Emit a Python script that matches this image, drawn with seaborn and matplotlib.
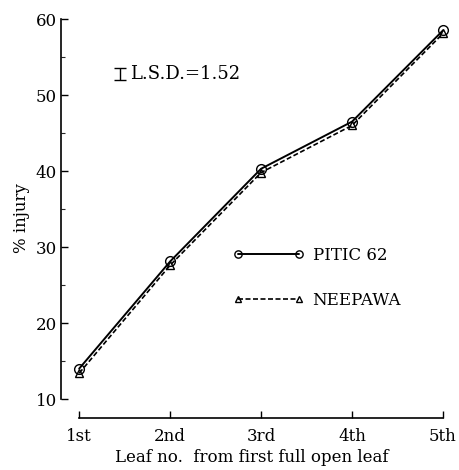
import matplotlib
matplotlib.use("Agg")
import matplotlib.pyplot as plt
import seaborn as sns
import pandas as pd

leaves = ["1st", "2nd", "3rd", "4th", "5th"]
leaf_pos = [1, 2, 3, 4, 5]
pitic62 = [14.0, 28.1, 40.3, 46.5, 58.5]
neepawa = [13.4, 27.6, 39.8, 46.0, 58.1]
lsd = 1.52
y_ticks = [10, 20, 30, 40, 50, 60]
y_minor = [15, 25, 35, 45, 55]

sns.set_theme(style="ticks")
plt.rcParams["font.family"] = ["DejaVu Serif"]
plt.rcParams["text.color"] = "black"
plt.rcParams["axes.labelcolor"] = "black"

df = pd.DataFrame({
    "leaf": leaf_pos * 2,
    "injury": pitic62 + neepawa,
    "variety": ["PITIC 62"] * 5 + ["NEEPAWA"] * 5,
})

fig = plt.figure(figsize=(4.6, 4.7), dpi=100)
ax = fig.add_axes([0.1326, 0.1106, 0.8304, 0.8489])

styles = {
    "PITIC 62": dict(marker="o", ls="-", ms=7, lw=1.4),
    "NEEPAWA": dict(marker="^", ls="--", ms=5.5, lw=1.2, dashes=(3, 1.5)),
}
for name, st in styles.items():
    sub = df[df["variety"] == name]
    kw = dict(st)
    dashes = kw.pop("dashes", None)
    sns.lineplot(data=sub, x="leaf", y="injury", ax=ax, color="black",
                 marker=kw["marker"], markersize=kw["ms"], linewidth=kw["lw"],
                 linestyle=kw["ls"], mfc="none", mec="black", mew=1.0,
                 label=name, clip_on=False)
    if dashes:
        ax.lines[-1].set_dashes(dashes)

ax.set_xlim(0.8, 5.0)
ax.set_ylim(7.5, 60)
ax.spines["left"].set_bounds(10, 60)
ax.spines["bottom"].set_bounds(1, 5)
for s in ["top", "right"]:
    ax.spines[s].set_visible(False)
for s in ["left", "bottom"]:
    ax.spines[s].set_linewidth(1.2)
    ax.spines[s].set_color("black")

ax.set_xticks(leaf_pos)
ax.set_xticklabels(leaves)
ax.set_yticks(y_ticks)
ax.set_yticks(y_minor, minor=True)
ax.tick_params(axis="both", which="major", direction="in", length=5, width=1.0,
               labelsize=12, colors="black", pad=7)
ax.tick_params(axis="y", which="minor", direction="in", length=3, width=0.8)
ax.tick_params(axis="y", which="major", pad=3)

ax.set_xlabel("Leaf no.  from first full open leaf", fontsize=12, labelpad=3)
ax.set_ylabel("% injury", fontsize=12, labelpad=4)

# LSD bar
ax.errorbar([1.45], [52.8], yerr=[lsd / 2], color="black", capsize=4.5,
            elinewidth=1.0, capthick=1.0, fmt="none")
ax.text(1.56, 52.8, "L.S.D.=1.52", fontsize=13, va="center", ha="left")

leg = ax.legend(loc="center left", bbox_to_anchor=(0.41, 0.351), frameon=False,
                fontsize=12, handlelength=4.3, numpoints=2, labelspacing=1.65,
                handletextpad=0.5, markerscale=0.75)
for t in leg.get_texts():
    t.set_color("black")

fig.savefig("out.png", dpi=100)
